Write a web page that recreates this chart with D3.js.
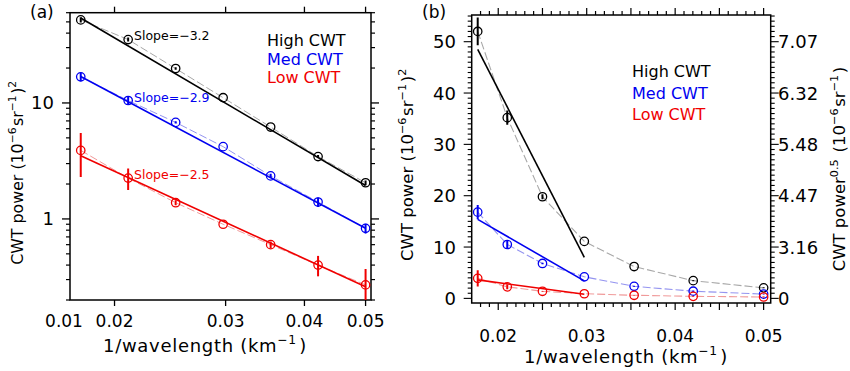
<!DOCTYPE html>
<html><head><meta charset="utf-8">
<script src="https://cdn.jsdelivr.net/npm/d3@7"></script>
<style>
html,body{margin:0;padding:0;background:#fff;}
svg{display:block;}
text{font-family:"DejaVu Sans",sans-serif;}
</style></head>
<body>
<svg id="chart" width="850" height="371"></svg>
<script>
// ---------------- data ----------------
const wavenumber = [0.01768, 0.02102, 0.02500, 0.02973, 0.03536, 0.04204, 0.05000];
const highCWT = [52.0, 35.2, 19.8, 11.1, 6.2, 3.45, 2.05];
const highErr = [2.7, 1.4, 0.5, 0.0, 0.0, 0.1, 0.1];
const medCWT  = [16.8, 10.5, 6.8, 4.2, 2.35, 1.4, 0.83];
const medErr  = [1.4, 0.8, 0.15, 0.0, 0.1, 0.13, 0.08];
const lowCWT  = [3.9, 2.25, 1.38, 0.9, 0.6, 0.4, 0.27];
const lowErr  = [1.6, 0.47, 0.07, 0.0, 0.04, 0.08, 0.1];

const seriesNames = ["High CWT", "Med CWT", "Low CWT"];
const slopeLabels = ["Slope=\u22123.2", "Slope=\u22122.9", "Slope=\u22122.5"];
// power-law fit (panel a): value at first and last wavenumber
const fitAStart = [54, 16.9, 3.5];
const fitAEnd   = [1.94, 0.83, 0.26];
// linear fit (panel b) over first four wavenumbers
const fitBx     = [0.01768, 0.02973];
const fitBStart = [48.5, 15.4, 3.6];
const fitBEnd   = [8.0, 3.4, 0.8];

const xTicksA = [0.01, 0.02, 0.03, 0.04, 0.05];
const xTickLabelsA = ["0.01", "0.02", "0.03", "0.04", "0.05"];
const yTicksA = [1, 10];
const yTickLabelsA = ["1", "10"];
const xTicksB = [0.02, 0.03, 0.04, 0.05];
const xTickLabelsB = ["0.02", "0.03", "0.04", "0.05"];
const yTicksB = [0, 10, 20, 30, 40, 50];
const yTickLabelsB = ["0", "10", "20", "30", "40", "50"];
const yTickLabelsBRight = ["0", "3.16", "4.47", "5.48", "6.32", "7.07"];

// ---------------- styles ----------------
const colors = ["#000000", "#0000f0", "#f00000"];
const lightColors = ["#a8a8a8", "#9494f0", "#f09a9a"];
const values = [highCWT, medCWT, lowCWT];
const errs = [highErr, medErr, lowErr];

const svg = d3.select("#chart");

function rich(sel, parts, size) {
  parts.forEach(p => {
    if (p[1]) {
      sel.append("tspan").attr("dy", -size * 0.42).attr("font-size", size * 0.68).text(p[0]);
      sel.append("tspan").attr("dy", size * 0.42).attr("font-size", size).text("\u200a");
    } else {
      sel.append("tspan").attr("font-size", size).text(p[0]);
    }
  });
}
const yTitlePartsA = [["CWT power (10"], ["\u22126", 1], ["sr"], ["\u22121", 1], [")"], ["2", 1]];
const yTitlePartsB = [["CWT power  (10"], ["\u22126", 1], ["sr"], ["\u22121", 1], [")"], ["2", 1]];
const xTitleParts = [["1/wavelength  (km"], ["\u22121", 1], [")"]];

// =============== Panel A (log-log) ===============
const xA = d3.scaleLog().domain([0.017, 0.051]).range([70, 371]);
const yA = d3.scaleLog().domain([0.2, 60]).range([300, 12.7]);
const gA = svg.append("g");
svg.append("clipPath").attr("id", "clipA").append("rect")
  .attr("x", 70).attr("y", 12.7).attr("width", 301).attr("height", 287.3);

gA.append("rect").attr("x", 70).attr("y", 12.7).attr("width", 301).attr("height", 287.3)
  .attr("fill", "none").attr("stroke", "#000").attr("stroke-width", 1.5);

xTicksA.forEach((v, i) => {
  const inDom = v >= xA.domain()[0] && v <= xA.domain()[1];
  const px = inDom ? xA(v) : xA.range()[0] - 6;
  if (inDom) {
    gA.append("line").attr("x1", px).attr("x2", px).attr("y1", 300).attr("y2", 306).attr("stroke", "#000").attr("stroke-width", 1.3);
    gA.append("line").attr("x1", px).attr("x2", px).attr("y1", 12.7).attr("y2", 6.7).attr("stroke", "#000").attr("stroke-width", 1.3);
  }
  gA.append("text").attr("x", px).attr("y", 327).attr("text-anchor", "middle").attr("font-size", 17).text(xTickLabelsA[i]);
});
const yMinorA = [0.2,0.3,0.4,0.5,0.6,0.7,0.8,0.9,2,3,4,5,6,7,8,9,20,30,40,50,60];
yMinorA.forEach(v => {
  const py = yA(v);
  gA.append("line").attr("x1", 70).attr("x2", 66).attr("y1", py).attr("y2", py).attr("stroke", "#000").attr("stroke-width", 1.2);
  gA.append("line").attr("x1", 371).attr("x2", 375).attr("y1", py).attr("y2", py).attr("stroke", "#000").attr("stroke-width", 1.2);
});
yTicksA.forEach((v, i) => {
  const py = yA(v);
  gA.append("line").attr("x1", 70).attr("x2", 62).attr("y1", py).attr("y2", py).attr("stroke", "#000").attr("stroke-width", 1.3);
  gA.append("line").attr("x1", 371).attr("x2", 379).attr("y1", py).attr("y2", py).attr("stroke", "#000").attr("stroke-width", 1.3);
  gA.append("text").attr("x", 54).attr("y", py + 6.5).attr("text-anchor", "end").attr("font-size", 18).text(yTickLabelsA[i]);
});

const plotA = gA.append("g").attr("clip-path", "url(#clipA)");
values.forEach((vals, s) => {
  const pts = wavenumber.map((w, i) => [w, vals[i]]);
  plotA.append("path").datum(pts)
    .attr("d", d3.line().x(d => xA(d[0])).y(d => yA(d[1])))
    .attr("fill", "none").attr("stroke", lightColors[s]).attr("stroke-width", 1).attr("stroke-dasharray", "8,3");
  plotA.append("line")
    .attr("x1", xA(wavenumber[0])).attr("y1", yA(fitAStart[s]))
    .attr("x2", xA(wavenumber[wavenumber.length - 1])).attr("y2", yA(fitAEnd[s]))
    .attr("stroke", colors[s]).attr("stroke-width", 1.6);
  pts.forEach((d, i) => {
    const e = errs[s][i];
    if (e > 0) {
      plotA.append("line").attr("x1", xA(d[0])).attr("x2", xA(d[0]))
        .attr("y1", yA(Math.max(d[1] - e, 0.01))).attr("y2", yA(d[1] + e))
        .attr("stroke", colors[s]).attr("stroke-width", 2);
    }
    plotA.append("circle").attr("cx", xA(d[0])).attr("cy", yA(d[1])).attr("r", 4.2)
      .attr("fill", "none").attr("stroke", colors[s]).attr("stroke-width", 1.3);
  });
});

const slopeY = [40, 102, 179];
slopeLabels.forEach((t, s) => {
  gA.append("text").attr("x", 134).attr("y", slopeY[s]).attr("font-size", 12.5).attr("fill", colors[s]).text(t);
});
seriesNames.forEach((t, s) => {
  gA.append("text").attr("x", 267).attr("y", 46 + s * 18.5).attr("font-size", 16).attr("fill", colors[s]).text(t);
});
gA.append("text").attr("x", 30).attr("y", 18).attr("font-size", 17).text("(a)");
rich(gA.append("text").attr("text-anchor", "middle").attr("transform", "translate(23,172) rotate(-90)"), yTitlePartsA, 15.8);
rich(gA.append("text").attr("x", 205).attr("y", 352).attr("text-anchor", "middle").attr("letter-spacing", 0.7), xTitleParts, 18);

// =============== Panel B (linear) ===============
const xB = d3.scaleLinear().domain([0.017, 0.0508]).range([471.7, 770.7]);
const yB = d3.scaleLinear().domain([-0.9, 55.2]).range([303, 15]);
const gB = svg.append("g");
svg.append("clipPath").attr("id", "clipB").append("rect")
  .attr("x", 471.7).attr("y", 15).attr("width", 299).attr("height", 288);

gB.append("rect").attr("x", 471.7).attr("y", 15).attr("width", 299).attr("height", 288)
  .attr("fill", "none").attr("stroke", "#000").attr("stroke-width", 1.5);

d3.range(18, 51).forEach(k => {
  const v = k / 1000;
  const px = xB(v);
  const len = (k % 5 === 0) ? 7 : 4;
  gB.append("line").attr("x1", px).attr("x2", px).attr("y1", 303).attr("y2", 303 + len).attr("stroke", "#000").attr("stroke-width", 1.2);
  gB.append("line").attr("x1", px).attr("x2", px).attr("y1", 15).attr("y2", 15 - len).attr("stroke", "#000").attr("stroke-width", 1.2);
});
xTicksB.forEach((v, i) => {
  gB.append("text").attr("x", xB(v)).attr("y", 342).attr("text-anchor", "middle").attr("font-size", 17).text(xTickLabelsB[i]);
});
d3.range(0, 56).forEach(k => {
  const py = yB(k);
  const len = (k % 10 === 0) ? 8 : 4;
  gB.append("line").attr("x1", 471.7).attr("x2", 471.7 - len).attr("y1", py).attr("y2", py).attr("stroke", "#000").attr("stroke-width", 1.1);
  gB.append("line").attr("x1", 770.7).attr("x2", 770.7 + len).attr("y1", py).attr("y2", py).attr("stroke", "#000").attr("stroke-width", 1.1);
});
yTicksB.forEach((v, i) => {
  const py = yB(v);
  gB.append("text").attr("x", 456).attr("y", py + 6.5).attr("text-anchor", "end").attr("font-size", 18).text(yTickLabelsB[i]);
  gB.append("text").attr("x", 778).attr("y", py + 6.5).attr("text-anchor", "start").attr("font-size", 18).text(yTickLabelsBRight[i]);
});

const plotB = gB.append("g").attr("clip-path", "url(#clipB)");
values.forEach((vals, s) => {
  const pts = wavenumber.map((w, i) => [w, vals[i]]);
  plotB.append("path").datum(pts)
    .attr("d", d3.line().x(d => xB(d[0])).y(d => yB(d[1])))
    .attr("fill", "none").attr("stroke", lightColors[s]).attr("stroke-width", 1.1).attr("stroke-dasharray", "8,3");
  plotB.append("line")
    .attr("x1", xB(fitBx[0])).attr("y1", yB(fitBStart[s]))
    .attr("x2", xB(fitBx[1])).attr("y2", yB(fitBEnd[s]))
    .attr("stroke", colors[s]).attr("stroke-width", 1.6);
  pts.forEach((d, i) => {
    const e = errs[s][i];
    if (e > 0) {
      plotB.append("line").attr("x1", xB(d[0])).attr("x2", xB(d[0]))
        .attr("y1", yB(d[1] - e)).attr("y2", yB(d[1] + e))
        .attr("stroke", colors[s]).attr("stroke-width", 2);
    }
    plotB.append("circle").attr("cx", xB(d[0])).attr("cy", yB(d[1])).attr("r", 4.2)
      .attr("fill", "none").attr("stroke", colors[s]).attr("stroke-width", 1.3);
  });
});

seriesNames.forEach((t, s) => {
  gB.append("text").attr("x", 632).attr("y", 77 + s * 21.5).attr("font-size", 16).attr("fill", colors[s]).text(t);
});
gB.append("text").attr("x", 422).attr("y", 18).attr("font-size", 17).text("(b)");
rich(gB.append("text").attr("text-anchor", "middle").attr("transform", "translate(413,164) rotate(-90)"), yTitlePartsB, 16.5);
rich(gB.append("text").attr("text-anchor", "middle").attr("transform", "translate(845,169) rotate(-90)"),
  [["CWT power"], ["0.5", 1], [" (10"], ["\u22126", 1], ["sr"], ["\u22121", 1], [")"]], 16.5);
rich(gB.append("text").attr("x", 626).attr("y", 363).attr("text-anchor", "middle").attr("letter-spacing", 0.7), xTitleParts, 18);
</script>
</body></html>
